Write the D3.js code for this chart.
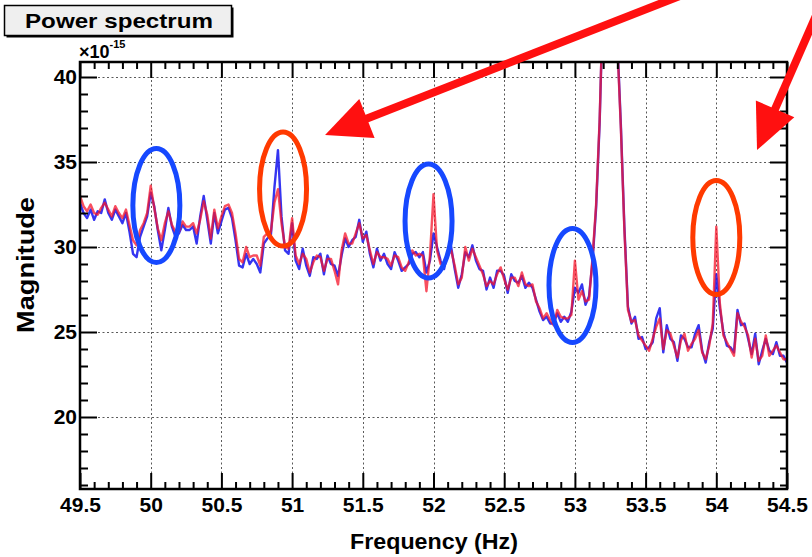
<!DOCTYPE html>
<html>
<head>
<meta charset="utf-8">
<script src="https://cdn.jsdelivr.net/npm/d3@7"></script>
<style>
  body { margin: 0; background: #fff; }
  svg { display: block; font-family: "Liberation Sans", Arial, Helvetica, sans-serif; font-weight: bold; }
</style>
</head>
<body>
<svg id="chart" width="812" height="557"></svg>
<script>
// Spectrum bins: 49.5 Hz upward in 0.025 Hz steps
const freqStart = 49.5;
const freqStep = 0.025;

// Magnitude (x1e-15), red trace
const magRed = [
  33.0, 32.4, 32.1, 32.5, 32.0, 31.9, 32.3, 32.6, 32.2, 31.8,
  32.4, 32.0, 31.7, 32.2, 31.3, 30.4, 30.1, 31.0, 31.4, 32.0,
  33.6, 32.3, 31.1, 30.4, 31.4, 32.1, 31.3, 30.9, 30.9, 31.5,
  31.2, 31.2, 31.4, 30.8, 31.6, 32.7, 31.9, 30.5, 32.2, 31.1,
  31.8, 32.4, 32.5, 32.0, 30.8, 29.3, 29.1, 30.0, 29.4, 29.5,
  29.5, 28.9, 30.6, 30.8, 30.9, 32.6, 33.4, 31.4, 30.0, 29.9,
  31.7, 29.5, 29.0, 29.6, 29.3, 28.5, 29.1, 29.5, 29.4, 28.6,
  29.3, 29.3, 28.6, 27.8, 29.8, 30.8, 30.2, 30.2, 30.8, 31.4,
  30.5, 30.7, 29.8, 29.0, 29.7, 29.4, 29.4, 29.3, 28.9, 29.5,
  29.4, 28.8, 28.6, 29.1, 29.8, 29.5, 29.6, 29.5, 27.4, 29.5,
  33.1, 29.8, 29.0, 28.9, 29.5, 29.8, 28.9, 27.8, 28.2, 30.0,
  29.2, 29.9, 29.4, 28.9, 28.4, 27.7, 28.0, 27.8, 28.4, 28.8,
  28.1, 27.5, 28.2, 28.2, 27.7, 28.5, 27.8, 27.7, 27.8, 26.8,
  26.4, 25.8, 26.1, 25.7, 25.4, 26.3, 25.9, 25.8, 25.8, 26.0,
  29.2, 26.9, 27.4, 26.8, 26.9, 29.4, 32.5, 37.5, 45.0, 60.0,
  66.0, 60.0, 42.0, 37.0, 31.0, 26.3, 25.6, 25.7, 24.8, 24.5,
  24.2, 23.9, 24.6, 25.3, 25.8, 24.0, 25.1, 24.9, 24.2, 23.5,
  24.5, 24.9, 23.9, 24.3, 24.6, 25.1, 23.8, 23.4, 24.2, 25.5,
  31.2, 26.7, 24.8, 24.4, 24.0, 23.6, 26.1, 25.6, 25.3, 24.8,
  23.5, 24.6, 23.3, 23.6, 24.8, 23.6, 23.9, 24.2, 23.8, 23.4,
  23.4
];

// Magnitude (x1e-15), blue trace
const magBlue = [
  32.6, 32.0, 31.7, 32.2, 31.6, 32.1, 32.0, 32.8, 32.0, 31.6,
  32.2, 31.8, 31.4, 32.0, 30.9, 29.6, 29.4, 30.6, 31.2, 31.8,
  33.2, 32.4, 31.0, 29.8, 31.0, 32.3, 31.2, 30.6, 30.8, 31.3,
  31.0, 31.0, 31.2, 30.2, 31.8, 33.0, 31.6, 30.2, 32.0, 30.8,
  31.5, 32.2, 32.3, 31.7, 30.4, 28.9, 28.8, 29.6, 29.0, 29.3,
  29.0, 28.5, 30.2, 30.5, 30.7, 33.5, 35.7, 31.8, 29.8, 29.6,
  31.4, 29.2, 28.7, 29.9, 28.9, 28.3, 29.4, 29.3, 29.6, 28.4,
  29.5, 29.0, 28.9, 28.3, 29.5, 30.5, 30.0, 30.4, 30.6, 31.6,
  30.3, 30.9, 29.6, 28.8, 29.9, 29.2, 29.6, 29.0, 28.7, 29.7,
  29.2, 28.6, 28.8, 29.0, 29.6, 29.7, 29.4, 29.7, 28.5, 29.2,
  30.8, 30.0, 29.2, 28.7, 29.7, 30.0, 28.7, 27.6, 28.4, 29.7,
  29.4, 30.1, 29.2, 28.7, 28.6, 27.5, 28.2, 27.6, 28.6, 28.6,
  28.3, 27.3, 28.4, 28.0, 27.9, 28.3, 27.6, 27.9, 27.6, 26.9,
  26.2, 25.7, 25.9, 25.5, 25.5, 26.1, 25.6, 25.9, 25.6, 26.2,
  27.6, 27.3, 27.8, 26.6, 27.1, 29.2, 32.3, 37.3, 45.0, 60.0,
  66.0, 60.0, 42.2, 37.2, 31.2, 26.5, 25.5, 25.9, 24.6, 24.7,
  24.0, 24.1, 24.4, 25.8, 26.4, 23.8, 25.4, 24.6, 24.4, 23.3,
  24.8, 24.6, 24.1, 24.1, 24.9, 25.4, 23.9, 23.2, 24.4, 25.2,
  28.4, 26.4, 25.0, 24.2, 24.1, 23.8, 26.3, 25.4, 25.5, 24.6,
  23.7, 24.9, 23.1, 23.9, 24.6, 23.9, 23.7, 24.4, 23.6, 23.6,
  23.2
];

// Axis ticks
const xMajorTicks = [49.5, 50, 50.5, 51, 51.5, 52, 52.5, 53, 53.5, 54, 54.5];
const xTickLabels = ["49.5", "50", "50.5", "51", "51.5", "52", "52.5", "53", "53.5", "54", "54.5"];
const yMajorTicks = [20, 25, 30, 35, 40];
const yTickLabels = ["20", "25", "30", "35", "40"];

// Highlighted lines: frequency, magnitude, colour key
const markFreq = [50.04, 50.936, 51.965, 52.983, 54.0];
const markMag = [32.44, 33.41, 31.53, 27.74, 30.56];
const markKind = ["blue", "orange", "blue", "blue", "orange"];

// Pointer arrows: tail and tip as (frequency, magnitude)
const arrowTail = [[53.814, 45.0], [54.769, 44.82]];
const arrowTip = [[51.233, 36.59], [54.288, 35.7]];

const svg = d3.select("#chart");
const W = 812, H = 557;
const plotL = 80, plotR = 787, plotT = 62, plotB = 489;

const x = d3.scaleLinear().domain([49.5, 54.5]).range([plotL, plotR]);
const y = d3.scaleLinear().domain([40 - (plotB - 77) / 17, 40 + (77 - plotT) / 17]).range([plotB, plotT]);

const freqs = magRed.map((_, i) => freqStart + i * freqStep);

svg.append("rect").attr("width", W).attr("height", H).attr("fill", "#fff");

// Grid
const grid = svg.append("g").attr("stroke", "#5a5a5a").attr("stroke-width", 1).attr("stroke-dasharray", "2,2.5");
grid.selectAll(".gx").data(xMajorTicks.slice(1, -1)).join("line")
  .attr("x1", d => Math.round(x(d)) + 0.5).attr("x2", d => Math.round(x(d)) + 0.5)
  .attr("y1", plotT).attr("y2", plotB);
grid.selectAll(".gy").data(yMajorTicks).join("line")
  .attr("y1", d => Math.round(y(d)) + 0.5).attr("y2", d => Math.round(y(d)) + 0.5)
  .attr("x1", plotL).attr("x2", plotR);

// Traces
svg.append("clipPath").attr("id", "frame").append("rect")
  .attr("x", plotL).attr("y", plotT).attr("width", plotR - plotL).attr("height", plotB - plotT);
const line = d3.line().x((d, i) => x(freqs[i])).y(d => y(d));
const traces = svg.append("g").attr("clip-path", "url(#frame)").attr("fill", "none")
  .attr("stroke-width", 2.4).attr("stroke-linejoin", "round");
traces.append("path").datum(magBlue).attr("d", line).attr("stroke", "#1f1ff0").attr("stroke-opacity", 0.9);
traces.append("path").datum(magRed).attr("d", line).attr("stroke", "#f5142a").attr("stroke-opacity", 0.75);

// Axes with inward ticks on all four sides
const xMinor = d3.range(49.6, 54.45, 0.1).filter(v => Math.abs(v * 2 - Math.round(v * 2)) > 1e-6);
const yMinor = d3.range(16, 41, 1).filter(v => v % 5 !== 0);

function styleAxis(g) {
  g.select(".domain").remove();
  g.selectAll(".tick line").attr("stroke", "#000").attr("stroke-width", 2);
}
function styleLabels(g) {
  g.selectAll("text").attr("font-size", 21).attr("fill", "#000")
    .attr("font-family", "Liberation Sans, Arial, sans-serif").attr("font-weight", "bold");
}
svg.append("g").attr("transform", `translate(0,${plotB})`)
  .call(d3.axisBottom(x).tickValues(xMajorTicks).tickSize(-16).tickPadding(8).tickFormat((d, i) => xTickLabels[i]))
  .call(styleAxis).call(styleLabels);
svg.append("g").attr("transform", `translate(0,${plotB})`)
  .call(d3.axisBottom(x).tickValues(xMinor).tickSize(-7).tickFormat(""))
  .call(styleAxis);
svg.append("g").attr("transform", `translate(0,${plotT})`)
  .call(d3.axisTop(x).tickValues(xMajorTicks).tickSize(-16).tickFormat(""))
  .call(styleAxis);
svg.append("g").attr("transform", `translate(0,${plotT})`)
  .call(d3.axisTop(x).tickValues(xMinor).tickSize(-7).tickFormat(""))
  .call(styleAxis);
svg.append("g").attr("transform", `translate(${plotL},0)`)
  .call(d3.axisLeft(y).tickValues(yMajorTicks).tickSize(-17).tickPadding(3).tickFormat((d, i) => yTickLabels[i]))
  .call(styleAxis).call(styleLabels);
svg.append("g").attr("transform", `translate(${plotL},0)`)
  .call(d3.axisLeft(y).tickValues(yMinor).tickSize(-8).tickFormat(""))
  .call(styleAxis);
svg.append("g").attr("transform", `translate(${plotR},0)`)
  .call(d3.axisRight(y).tickValues(yMajorTicks).tickSize(-17).tickFormat(""))
  .call(styleAxis);
svg.append("g").attr("transform", `translate(${plotR},0)`)
  .call(d3.axisRight(y).tickValues(yMinor).tickSize(-7).tickFormat(""))
  .call(styleAxis);

// Frame
svg.append("rect").attr("x", plotL).attr("y", plotT).attr("width", plotR - plotL).attr("height", plotB - plotT)
  .attr("fill", "none").attr("stroke", "#000").attr("stroke-width", 2.5);

// Exponent label
const expo = svg.append("text").attr("x", plotL - 1).attr("y", 58).attr("font-size", 18).attr("fill", "#000");
expo.append("tspan").text("\u00d710");
expo.append("tspan").attr("dy", -10).attr("font-size", 11).text("-15");

// Axis titles
svg.append("text").attr("x", 434).attr("y", 549).attr("text-anchor", "middle")
  .attr("font-size", 22).attr("textLength", 168).attr("lengthAdjust", "spacingAndGlyphs")
  .text("Frequency (Hz)");
svg.append("text").attr("transform", "translate(34,265) rotate(-90)").attr("text-anchor", "middle")
  .attr("font-size", 24).attr("textLength", 136).attr("lengthAdjust", "spacingAndGlyphs")
  .text("Magnitude");

// Title box
svg.append("rect").attr("x", 6.5).attr("y", 7.5).attr("width", 227).attr("height", 30).attr("fill", "#000");
svg.append("rect").attr("x", 4.5).attr("y", 5.5).attr("width", 227).attr("height", 30)
  .attr("fill", "#efefef").attr("stroke", "#000").attr("stroke-width", 1.5);
svg.append("text").attr("x", 119).attr("y", 28).attr("text-anchor", "middle").attr("font-size", 21)
  .attr("textLength", 188).attr("lengthAdjust", "spacingAndGlyphs").text("Power spectrum");

// Ellipses around the lines of interest
const kindColour = { blue: "#1648ff", orange: "#ff3a00" };
svg.append("g").selectAll("ellipse").data(markFreq).join("ellipse")
  .attr("cx", d => x(d)).attr("cy", (d, i) => y(markMag[i]))
  .attr("rx", 23.5).attr("ry", 57)
  .attr("fill", "none").attr("stroke", (d, i) => kindColour[markKind[i]]).attr("stroke-width", 5);

// Arrows
const arrows = svg.append("g").attr("fill", "#ff1010").attr("stroke", "#ff1010");
arrowTip.forEach((tip, i) => {
  const tx = x(tip[0]), ty = y(tip[1]);
  const sx = x(arrowTail[i][0]), sy = y(arrowTail[i][1]);
  const len = Math.hypot(tx - sx, ty - sy);
  const ux = (tx - sx) / len, uy = (ty - sy) / len;
  const headLen = 45, headHalf = 21;
  const bx = tx - ux * headLen, by = ty - uy * headLen;
  arrows.append("line").attr("x1", sx).attr("y1", sy).attr("x2", bx + ux * 4).attr("y2", by + uy * 4)
    .attr("stroke-width", 8);
  arrows.append("path").attr("stroke", "none")
    .attr("d", `M${tx},${ty}L${bx - uy * headHalf},${by + ux * headHalf}L${bx + uy * headHalf},${by - ux * headHalf}Z`);
});
</script>
</body>
</html>
